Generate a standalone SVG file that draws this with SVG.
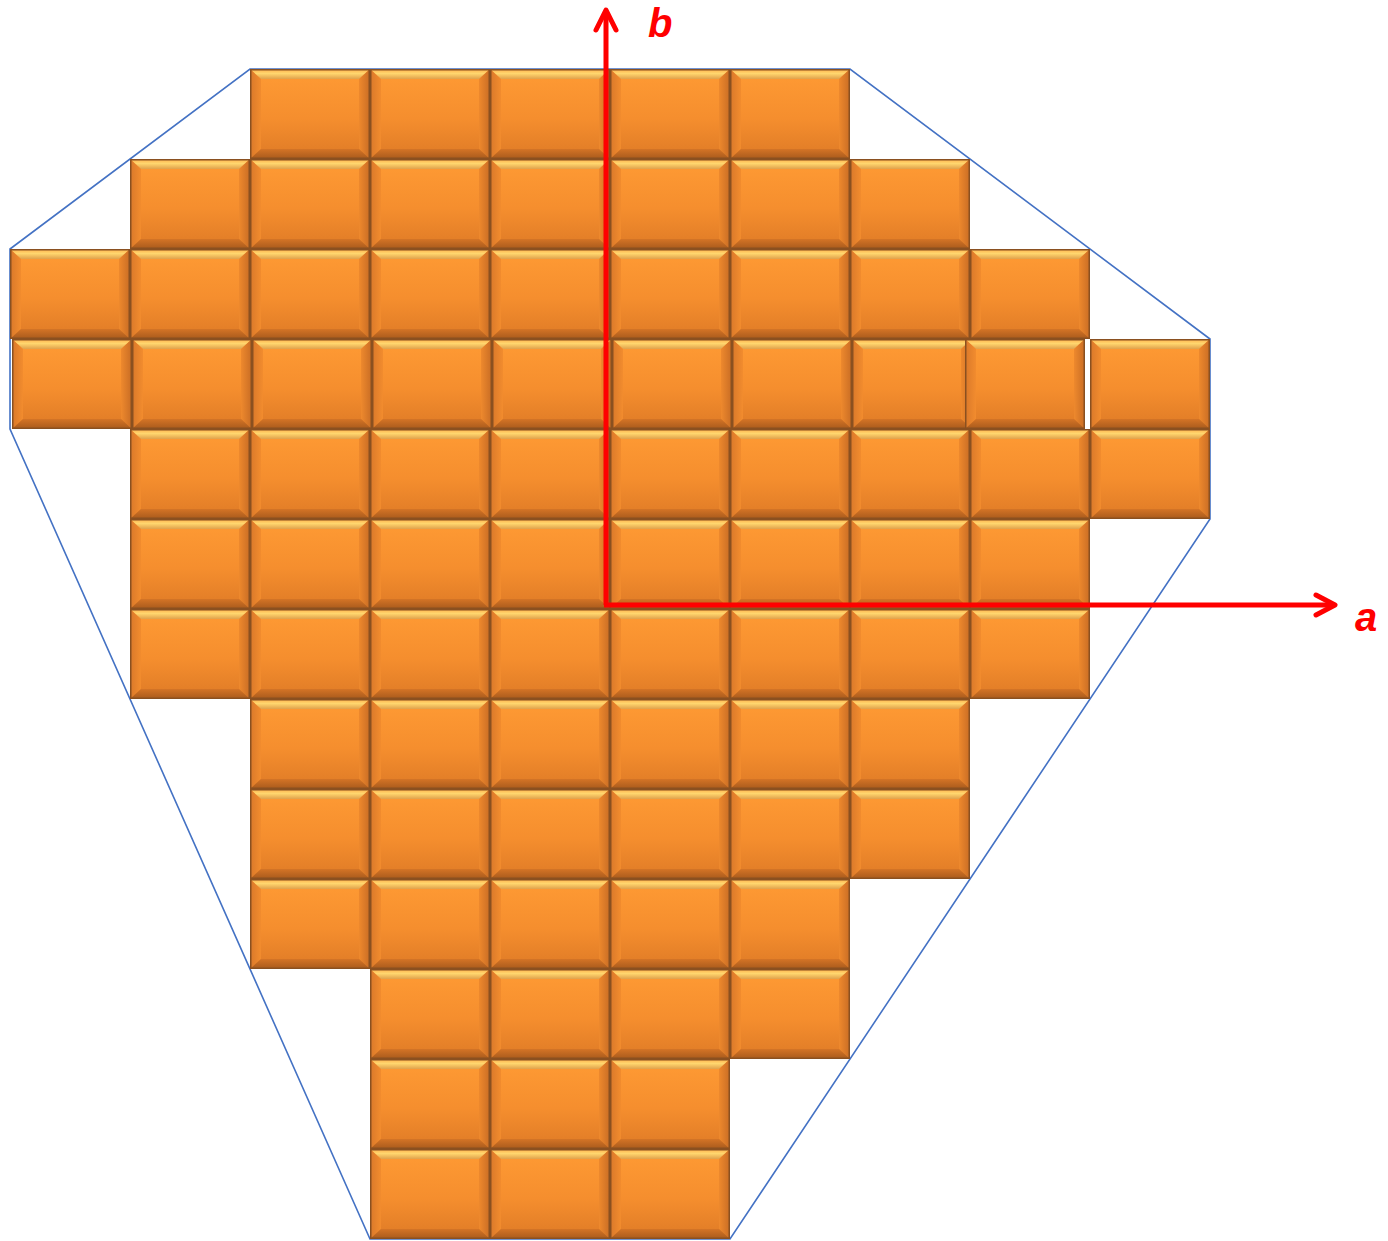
<svg xmlns="http://www.w3.org/2000/svg" xmlns:xlink="http://www.w3.org/1999/xlink" width="1388" height="1241" viewBox="0 0 1388 1241">
<style>
.hull{fill:none;stroke:#4472C4;stroke-width:1.6}
.axis{stroke:#FF0000;stroke-width:5;fill:none}
.head{stroke:#FF0000;stroke-width:5;fill:none;stroke-linecap:round;stroke-linejoin:round}
.lbl{font-family:"Liberation Sans",Arial,sans-serif;font-weight:bold;font-style:italic;font-size:40px;fill:#FF0000}
</style>
<defs>
<linearGradient id="body" x1="0" y1="0" x2="0" y2="1">
<stop offset="0" stop-color="#FF9B34"/>
<stop offset="0.55" stop-color="#F58E2E"/>
<stop offset="1" stop-color="#DE7A26"/>
</linearGradient>
<linearGradient id="topb" x1="0" y1="0" x2="0" y2="1">
<stop offset="0" stop-color="#FFB04A"/>
<stop offset="0.45" stop-color="#FFD66E"/>
<stop offset="1" stop-color="#E0A24C"/>
</linearGradient>
<linearGradient id="botb" x1="0" y1="0" x2="0" y2="1">
<stop offset="0" stop-color="#D47426"/>
<stop offset="1" stop-color="#A85A1C"/>
</linearGradient>
<linearGradient id="leftb" x1="0" y1="0" x2="1" y2="0">
<stop offset="0" stop-color="#D9782A"/>
<stop offset="1" stop-color="#F28C2E"/>
</linearGradient>
<linearGradient id="rightb" x1="0" y1="0" x2="1" y2="0">
<stop offset="0" stop-color="#EE892D"/>
<stop offset="1" stop-color="#C86C24"/>
</linearGradient>
<g id="tile">
<rect x="0" y="0" width="120" height="90" fill="url(#body)"/>
<polygon points="0,0 120,0 109,10 11,10" fill="url(#topb)"/>
<polygon points="0,0 11,10 11,80 0,90" fill="url(#leftb)"/>
<polygon points="120,0 109,10 109,80 120,90" fill="url(#rightb)"/>
<polygon points="0,90 11,80 109,80 120,90" fill="url(#botb)"/>
<rect x="0.75" y="0.75" width="118.5" height="88.5" fill="none" stroke="#8A5020" stroke-width="1.5"/>
</g>
</defs>
<rect width="1388" height="1241" fill="#FFFFFF"/>
<g id="hull">
<polygon class="hull" points="250,69 850,69 1210,339 1210,519 730,1239 370,1239 10,429 10,249"/>
</g>
<g id="row0"><use href="#tile" x="250" y="69"/><use href="#tile" x="370" y="69"/><use href="#tile" x="490" y="69"/><use href="#tile" x="610" y="69"/><use href="#tile" x="730" y="69"/></g>
<g id="row1"><use href="#tile" x="130" y="159"/><use href="#tile" x="250" y="159"/><use href="#tile" x="370" y="159"/><use href="#tile" x="490" y="159"/><use href="#tile" x="610" y="159"/><use href="#tile" x="730" y="159"/><use href="#tile" x="850" y="159"/></g>
<g id="row2"><use href="#tile" x="10" y="249"/><use href="#tile" x="130" y="249"/><use href="#tile" x="250" y="249"/><use href="#tile" x="370" y="249"/><use href="#tile" x="490" y="249"/><use href="#tile" x="610" y="249"/><use href="#tile" x="730" y="249"/><use href="#tile" x="850" y="249"/><use href="#tile" x="970" y="249"/></g>
<g id="row3"><use href="#tile" x="12" y="339"/><use href="#tile" x="132" y="339"/><use href="#tile" x="252" y="339"/><use href="#tile" x="372" y="339"/><use href="#tile" x="492" y="339"/><use href="#tile" x="612" y="339"/><use href="#tile" x="732" y="339"/><use href="#tile" x="852" y="339"/><use href="#tile" x="965" y="339"/><use href="#tile" x="1090" y="339"/></g>
<g id="row4"><use href="#tile" x="130" y="429"/><use href="#tile" x="250" y="429"/><use href="#tile" x="370" y="429"/><use href="#tile" x="490" y="429"/><use href="#tile" x="610" y="429"/><use href="#tile" x="730" y="429"/><use href="#tile" x="850" y="429"/><use href="#tile" x="970" y="429"/><use href="#tile" x="1090" y="429"/></g>
<g id="row5"><use href="#tile" x="130" y="519"/><use href="#tile" x="250" y="519"/><use href="#tile" x="370" y="519"/><use href="#tile" x="490" y="519"/><use href="#tile" x="610" y="519"/><use href="#tile" x="730" y="519"/><use href="#tile" x="850" y="519"/><use href="#tile" x="970" y="519"/></g>
<g id="row6"><use href="#tile" x="130" y="609"/><use href="#tile" x="250" y="609"/><use href="#tile" x="370" y="609"/><use href="#tile" x="490" y="609"/><use href="#tile" x="610" y="609"/><use href="#tile" x="730" y="609"/><use href="#tile" x="850" y="609"/><use href="#tile" x="970" y="609"/></g>
<g id="row7"><use href="#tile" x="250" y="699"/><use href="#tile" x="370" y="699"/><use href="#tile" x="490" y="699"/><use href="#tile" x="610" y="699"/><use href="#tile" x="730" y="699"/><use href="#tile" x="850" y="699"/></g>
<g id="row8"><use href="#tile" x="250" y="789"/><use href="#tile" x="370" y="789"/><use href="#tile" x="490" y="789"/><use href="#tile" x="610" y="789"/><use href="#tile" x="730" y="789"/><use href="#tile" x="850" y="789"/></g>
<g id="row9"><use href="#tile" x="250" y="879"/><use href="#tile" x="370" y="879"/><use href="#tile" x="490" y="879"/><use href="#tile" x="610" y="879"/><use href="#tile" x="730" y="879"/></g>
<g id="row10"><use href="#tile" x="370" y="969"/><use href="#tile" x="490" y="969"/><use href="#tile" x="610" y="969"/><use href="#tile" x="730" y="969"/></g>
<g id="row11"><use href="#tile" x="370" y="1059"/><use href="#tile" x="490" y="1059"/><use href="#tile" x="610" y="1059"/></g>
<g id="row12"><use href="#tile" x="370" y="1149"/><use href="#tile" x="490" y="1149"/><use href="#tile" x="610" y="1149"/></g>
<g id="connectors">
<line class="axis" x1="606" y1="605" x2="606" y2="12"/>
<polyline class="head" points="596,30 606,10 616,30"/>
<line class="axis" x1="604" y1="605" x2="1333" y2="605"/>
<polyline class="head" points="1316,595 1335,605 1316,615"/>
</g>
<g id="labels">
<text class="lbl" x="648" y="37">b</text>
<text class="lbl" x="1355" y="631">a</text>
</g>
</svg>
